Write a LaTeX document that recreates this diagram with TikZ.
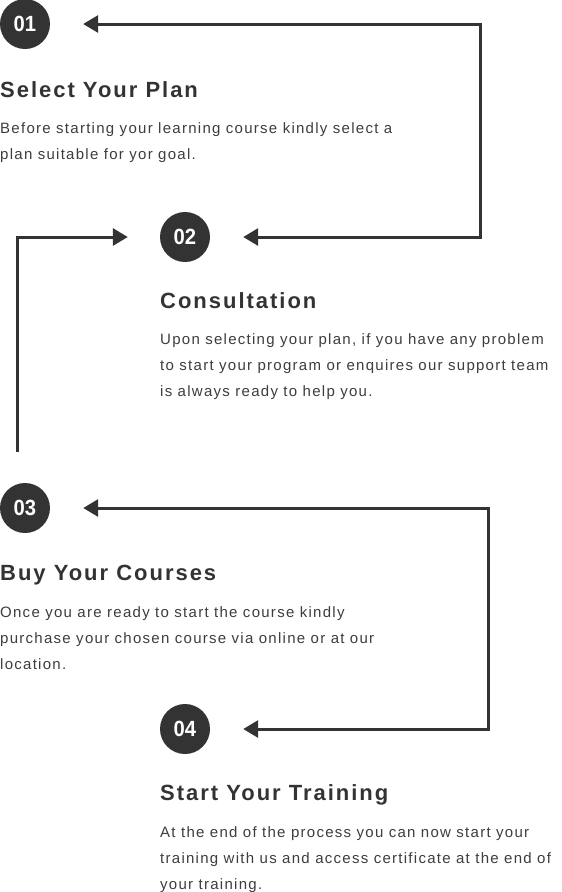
\documentclass[tikz,border=0pt]{standalone}
\usepackage{fontspec}
\setmainfont{Liberation Sans}
\newfontfamily\titlefont{Liberation Sans}[LetterSpace=9]
\newfontfamily\bodyfont{Liberation Sans}[LetterSpace=8.5]
\newfontfamily\numfont{Liberation Sans}[FakeStretch=0.92]
\usetikzlibrary{arrows.meta,positioning}
\definecolor{ink}{HTML}{333333}
\tikzset{
  num circle/.style = {
    circle,
    fill  = ink,
    text  = white,
    minimum size = 50pt,
    inner sep = 0pt,
    font = \numfont\bfseries\fontsize{22}{22}\selectfont},
  step title/.style = {
    anchor = base west,
    inner sep = 0pt,
    text = ink,
    font = \titlefont\bfseries\fontsize{22}{26}\selectfont},
  step text/.style = {
    anchor = base west,
    inner sep = 0pt,
    align = left,
    text = ink!95,
    font = \bodyfont\fontsize{15}{26}\selectfont},
  flow/.style = {line width = 3pt, draw = ink}
}

\begin{document}
\begin{tikzpicture}[x = 1pt, y = -1pt, >={Triangle[length=15pt, width=17pt]}]
  \useasboundingbox (0,0) rectangle (562,892);
  % steps
  \node[num circle] (n1) at (25,24)  {01};
  \node[num circle] (n2) at (185,237) {02};
  \node[num circle] (n3) at (25,508)  {03};
  \node[num circle] (n4) at (185,729) {04};
  \node[step title] (plan)     at (0,97)    {Select Your Plan};
  \node[step title] (consult)  at (160,308) {Consultation};
  \node[step title] (buy)      at (0,580)   {Buy Your Courses};
  \node[step title] (training) at (160,800) {Start Your Training};
  % text nodes sit on their last line
  \node[step text] (plan text)     at (0,159)   {Before starting your learning course kindly select a\\plan suitable for yor goal.};
  \node[step text] (consult text)  at (160,396) {Upon selecting your plan, if you have any problem\\to start your program or enquires our support team\\is always ready to help you.};
  \node[step text] (buy text)      at (0,669)   {Once you are ready to start the course kindly\\purchase your chosen course via online or at our\\location.};
  \node[step text] (training text) at (160,889) {At the end of the process you can now start your\\training with us and access certificate at the end of\\your training.};
  % connectors
  \coordinate (turn1)  at (480,24);
  \coordinate (start2) at (17,452);
  \coordinate (turn3)  at (488,508);
  \draw[flow, <->, shorten <= 33pt, shorten >= 33pt] (n1.east) -- (turn1) |- (n2.east);
  \draw[flow, ->, shorten >= 32pt] (start2) |- (n2.west);
  \draw[flow, <->, shorten <= 33pt, shorten >= 33pt] (n3.east) -- (turn3) |- (n4.east);
\end{tikzpicture}
\end{document}
